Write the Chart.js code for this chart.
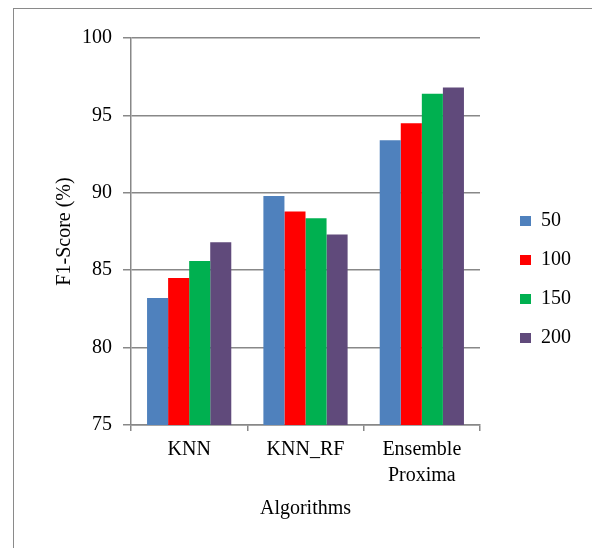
<!DOCTYPE html>
<html>
<head>
<meta charset="utf-8">
<script src="https://cdn.jsdelivr.net/npm/chart.js@4/dist/chart.umd.min.js"></script>
<style>
  html, body { margin: 0; padding: 0; background: #fff; }
  #frame {
    position: absolute; left: 13px; top: 8px;
    width: 579px; height: 540px;
    border-left: 1px solid #8a8a8a; border-top: 1px solid #8a8a8a;
  }
  #frame canvas { display: block; }
</style>
</head>
<body>
<div id="frame"><canvas id="bar-chart" width="578" height="539"></canvas></div>
<script>
// F1-Score per algorithm, one series per setting
var algorithms = ["KNN", "KNN_RF", ["Ensemble", "Proxima"]];
var seriesNames = ["50", "100", "150", "200"];
var f1_50  = [83.2, 89.8, 93.4];
var f1_100 = [84.5, 88.8, 94.5];
var f1_150 = [85.6, 88.35, 96.4];
var f1_200 = [86.8, 87.3, 96.8];
var seriesColors = ["#4F81BD", "#FF0000", "#00B050", "#604A7B"];
var yTicks = [75, 80, 85, 90, 95, 100];

var serif = "'Liberation Serif', 'Times New Roman', serif";
var gridGray = "#888888";

new Chart(document.getElementById("bar-chart"), {
  type: 'bar',
  data: {
    labels: algorithms,
    datasets: [f1_50, f1_100, f1_150, f1_200].map(function (vals, i) {
      return {
        label: seriesNames[i],
        data: vals,
        backgroundColor: seriesColors[i],
        borderWidth: 0,
        categoryPercentage: 0.724,
        barPercentage: 1.0
      };
    })
  },
  options: {
    responsive: false,
    animation: false,
    layout: { padding: { left: 39, top: 29, right: 11, bottom: 27 } },
    plugins: {
      tooltip: { enabled: false },
      legend: {
        position: 'right',
        labels: {
          boxWidth: 11, boxHeight: 10, padding: 19,
          color: '#000',
          font: { family: serif, size: 20 }
        }
      }
    },
    scales: {
      x: {
        grid: {
          drawOnChartArea: false, drawTicks: true, tickLength: 6,
          color: gridGray, lineWidth: 1.5, offset: true
        },
        border: { color: gridGray, width: 1.5 },
        ticks: {
          color: '#000', padding: 6, maxRotation: 0,
          font: { family: serif, size: 20, lineHeight: 1.3 }
        },
        title: {
          display: true, text: 'Algorithms', color: '#000',
          font: { family: serif, size: 20 },
          padding: { top: 2, bottom: 0 }
        }
      },
      y: {
        min: 75, max: 100,
        afterBuildTicks: function (axis) {
          axis.ticks = yTicks.map(function (v) { return { value: v }; });
        },
        afterFit: function (axis) { axis.width = 78; },
        grid: { color: gridGray, lineWidth: 1.5, tickLength: 8 },
        border: { color: gridGray, width: 1.5 },
        ticks: {
          color: '#000', padding: 11,
          font: { family: serif, size: 20 }
        },
        title: {
          display: true, text: 'F1-Score (%)', color: '#000',
          font: { family: serif, size: 20 },
          padding: { top: 0, bottom: 0 }
        }
      },
      // empty spacer between plot and legend
      gap: {
        position: 'right',
        display: true,
        grid: { display: false },
        border: { display: false },
        ticks: { display: false },
        afterFit: function (axis) { axis.width = 21; }
      }
    }
  }
});
</script>
</body>
</html>
